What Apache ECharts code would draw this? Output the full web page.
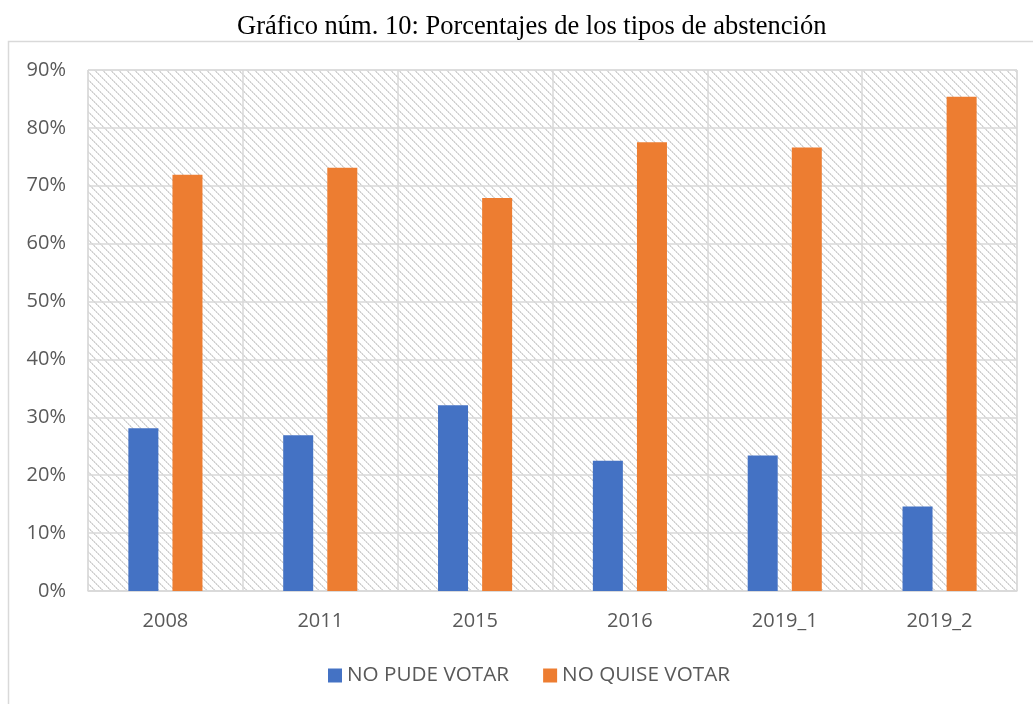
<!DOCTYPE html>
<html>
<head>
<meta charset="utf-8">
<script src="https://cdn.jsdelivr.net/npm/echarts@6/dist/echarts.min.js"></script>
<style>html,body{margin:0;padding:0;background:#fff}#c{width:1033px;height:704px}</style>
</head>
<body>
<div id="c"></div>
<script>
const titleText = 'Gráfico núm. 10: Porcentajes de los tipos de abstención';
const categories = ['2008', '2011', '2015', '2016', '2019_1', '2019_2'];
const seriesNames = ['NO PUDE VOTAR', 'NO QUISE VOTAR'];
const noPude = [28.1, 26.9, 32.1, 22.5, 23.4, 14.6];
const noQuise = [71.9, 73.1, 67.9, 77.5, 76.6, 85.4];
const yTicks = [0, 10, 20, 30, 40, 50, 60, 70, 80, 90];

// hatch pattern tile
const tile = document.createElement('canvas');
const T = 8;
tile.width = T; tile.height = T;
const tctx = tile.getContext('2d');
tctx.fillStyle = '#ffffff';
tctx.fillRect(0, 0, T, T);
const img = tctx.getImageData(0, 0, T, T);
for (let y = 0; y < T; y++) {
  for (let x = 0; x < T; x++) {
    const d = ((x - y) % T + T) % T;
    let v = 255;
    if (d === 0) v = (y % 2 === 0) ? 205 : 222;
    else if (d === 1) v = (y % 2 === 0) ? 232 : 215;
    const i = (y * T + x) * 4;
    img.data[i] = v; img.data[i + 1] = v; img.data[i + 2] = v; img.data[i + 3] = 255;
  }
}
tctx.putImageData(img, 0, 0);

const chart = echarts.init(document.getElementById('c'), null, {renderer: 'canvas'});
const labelFont = '"Open Sans", sans-serif';
chart.setOption({
  animation: false,
  backgroundColor: '#ffffff',
  title: {
    text: titleText,
    left: 232,
    top: 9,
    textStyle: {fontFamily: '"Liberation Serif", "Times New Roman", serif', fontSize: 26.5, fontWeight: 'normal', color: '#000000'}
  },
  graphic: [{
    type: 'rect',
    shape: {x: 8.5, y: 41.5, width: 1040, height: 700},
    style: {fill: 'none', stroke: '#d9d9d9', lineWidth: 1.5},
    z: -10
  }],
  legend: {
    data: seriesNames,
    bottom: 13,
    left: 323,
    icon: 'rect',
    itemWidth: 14,
    itemHeight: 14,
    itemGap: 34,
    textStyle: {fontFamily: labelFont, fontSize: 20.7, color: '#595959'}
  },
  grid: {
    left: 88, right: 16, top: 70, bottom: 113,
    show: true,
    backgroundColor: {image: tile, repeat: 'repeat'},
    borderColor: '#d9d9d9',
    borderWidth: 1
  },
  xAxis: {
    type: 'category',
    data: categories,
    axisLine: {lineStyle: {color: '#d9d9d9', width: 1.5}},
    axisTick: {show: false},
    splitLine: {show: true, lineStyle: {color: '#d9d9d9', width: 1.5}},
    axisLabel: {fontFamily: labelFont, fontSize: 20, color: '#595959', margin: 20}
  },
  yAxis: {
    type: 'value',
    min: 0, max: 90, interval: 10,
    axisLine: {show: false},
    axisTick: {show: false},
    splitLine: {lineStyle: {color: '#d9d9d9', width: 1.5}},
    axisLabel: {
      fontFamily: labelFont, fontSize: 20, color: '#595959', margin: 22,
      formatter: v => (yTicks.includes(v) ? v + '%' : '')
    }
  },
  series: [
    {name: seriesNames[0], type: 'bar', data: noPude, barWidth: 30, barGap: '47%', itemStyle: {color: '#4472c4'}},
    {name: seriesNames[1], type: 'bar', data: noQuise, barWidth: 30, barGap: '47%', itemStyle: {color: '#ed7d31'}}
  ]
});
</script>
</body>
</html>
